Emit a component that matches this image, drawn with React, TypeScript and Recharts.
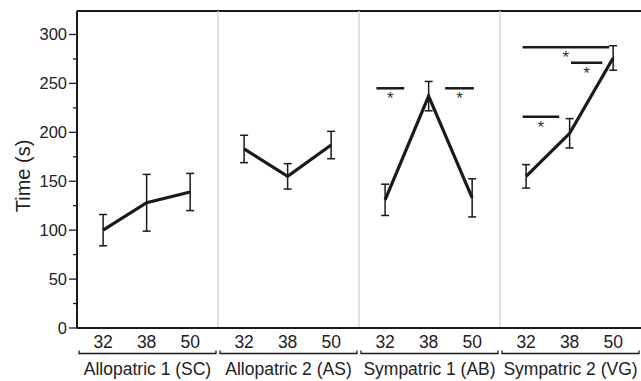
import {
  ComposedChart,
  ErrorBar,
  Line,
  ReferenceLine,
  XAxis,
  YAxis,
} from 'recharts';

const groups = ['Allopatric 1 (SC)', 'Allopatric 2 (AS)', 'Sympatric 1 (AB)', 'Sympatric 2 (VG)'];
const temps = ['32', '38', '50'];
const means = [
  [100, 128, 139],
  [183, 155, 187],
  [131, 237, 133],
  [155, 199, 276],
];
const errs = [
  [16, 29, 19],
  [14, 13, 14],
  [16, 15, 19.5],
  [12, 15, 12.5],
];
const yTicks = [0, 25, 50, 75, 100, 125, 150, 175, 200, 225, 250, 275, 300];

// significance bars: panel, start/end in category units, height in seconds
const sigPanel = [2, 2, 3, 3, 3];
const sigFrom = [-0.2, 1.38, -0.08, 1.03, -0.08];
const sigTo = [0.44, 2.04, 1.91, 1.75, 0.76];
const sigY = [245, 245, 287, 271, 216];

const W = 641;
const H = 381;
const LEFT = 77;
const SPAN = 3.24; // one panel in x units
const OFFSET = 0.6;
const X_MAX = SPAN * groups.length;
const PX_PER_UNIT = (W - LEFT) / X_MAX;
const INK = '#1a1a1a';

const rows = groups.flatMap((_, p) =>
  temps.map((t, i) => ({
    x: p * SPAN + OFFSET + i,
    temp: t,
    [`m${p}`]: means[p][i],
    [`e${p}`]: errs[p][i],
  })),
);

function YTick({ x, y, payload }: any) {
  const major = payload.value % 50 === 0;
  return (
    <g>
      <line x1={x - (major ? 8 : 4)} x2={x} y1={y} y2={y} stroke={INK} strokeWidth={1.3} />
      {major && (
        <text x={x - 10} y={y + 6} textAnchor="end" fontSize={16.5} fill="#222">
          {payload.value}
        </text>
      )}
    </g>
  );
}

function GroupTick({ x, y, index }: any) {
  const half = (SPAN * PX_PER_UNIT) / 2 - 2;
  const by = y + 3.5;
  return (
    <g>
      <path
        d={`M${x - half},${by - 3}L${x - half},${by}L${x + half},${by}L${x + half},${by - 3}`}
        fill="none"
        stroke={INK}
        strokeWidth={1.3}
      />
      <text x={x} y={y + 24.5} textAnchor="middle" fontSize={17.5} fill="#222">
        {groups[index]}
      </text>
    </g>
  );
}

function TitleLabel() {
  return (
    <text
      x={23}
      y={176}
      transform="rotate(-90, 23, 176)"
      textAnchor="middle"
      dominantBaseline="central"
      fontSize={20}
      fill="#222"
    >
      Time (s)
    </text>
  );
}

export default function App() {
  return (
    <div style={{ position: 'absolute', left: 0, top: 0, fontFamily: '"Liberation Sans", Arial, sans-serif' }}>
      <ComposedChart width={W} height={H} data={rows} margin={{ top: 11, right: 0, left: 0, bottom: 0 }}>
        <XAxis
          dataKey="x"
          type="number"
          domain={[0, X_MAX]}
          ticks={rows.map((r) => r.x)}
          interval={0}
          tickFormatter={(_v: number, i: number) => temps[i % 3]}
          height={22}
          axisLine={{ stroke: INK, strokeWidth: 2 }}
          tickLine={false}
          tick={{ fontSize: 17.5, fill: '#222' }}
        />
        <XAxis
          xAxisId="grp"
          dataKey="x"
          type="number"
          domain={[0, X_MAX]}
          ticks={groups.map((_, p) => p * SPAN + SPAN / 2)}
          interval={0}
          height={31}
          axisLine={false}
          tickLine={false}
          tickSize={0}
          tickMargin={0}
          tick={<GroupTick />}
        />
        <YAxis
          type="number"
          domain={[0, 324]}
          ticks={yTicks}
          interval={0}
          width={LEFT}
          axisLine={{ stroke: INK, strokeWidth: 2 }}
          tickLine={false}
          tickSize={0}
          tickMargin={0}
          tick={<YTick />}
          label={{ value: 'Time (s)', content: TitleLabel }}
        />
        <ReferenceLine y={324} stroke={INK} strokeWidth={2} ifOverflow="visible" />
        {[1, 2, 3].map((p) => (
          <ReferenceLine key={`sep${p}`} x={p * SPAN} stroke="#d6d6d6" strokeWidth={1.5} />
        ))}
        {groups.map((_, p) => (
          <Line
            key={`line${p}`}
            dataKey={`m${p}`}
            stroke={INK}
            strokeWidth={3.2}
            dot={false}
            activeDot={false}
            connectNulls={false}
            isAnimationActive={false}
          >
            <ErrorBar dataKey={`e${p}`} direction="y" width={4} stroke={INK} strokeWidth={1.5} />
          </Line>
        ))}
        {sigPanel.map((p, k) => (
          <ReferenceLine
            key={`sig${k}`}
            segment={[
              { x: p * SPAN + OFFSET + sigFrom[k], y: sigY[k] },
              { x: p * SPAN + OFFSET + sigTo[k], y: sigY[k] },
            ]}
            stroke={INK}
            strokeWidth={2.5}
            label={{ value: '*', position: 'bottom', offset: 4, fontSize: 17, fill: '#333' }}
          />
        ))}
      </ComposedChart>
    </div>
  );
}
